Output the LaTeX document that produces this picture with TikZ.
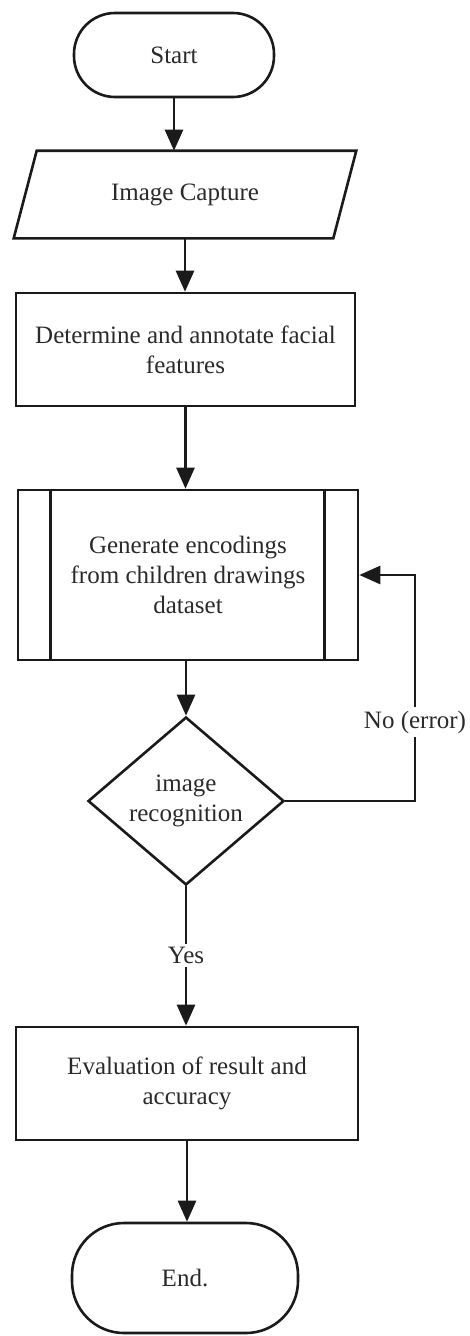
\documentclass[tikz,border=0pt]{standalone}
\usepackage{fontspec}
\setmainfont{Liberation Serif}
\usetikzlibrary{shapes.geometric,arrows.meta}
\definecolor{ink}{HTML}{1A1A1A}
\definecolor{txt}{HTML}{2A2A2A}
\tikzset{
  base/.style={draw=ink, line width=2.6pt, align=center, text=txt,
    font=\fontsize{25}{30}\selectfont, inner sep=0pt},
  terminal/.style={base, rectangle, rounded corners=#1},
  process/.style={base, rectangle},
  decision/.style={base, diamond, aspect=1.17},
  flow/.style={draw=ink, line width=2.6pt, -{Triangle[length=21pt,width=18pt]}},
  plain/.style={draw=ink, line width=2.6pt},
  lbl/.style={text=txt, font=\fontsize{25}{30}\selectfont, inner sep=3pt}
}
\begin{document}
\begin{tikzpicture}[x=1pt,y=-1pt]
\useasboundingbox (0,0) rectangle (469,1336);

% process steps
\node[terminal=41pt, minimum width=200pt, minimum height=84pt] (start) at (174,55) {Start};

% input/output step: slanted box drawn around the text node
\node[base, draw=none, minimum width=340pt, minimum height=85pt] (cap) at (185,194.5) {Image Capture};
\draw[plain, line join=miter] ([xshift=23pt]cap.north west) -- (cap.north east)
  -- ([xshift=-23pt]cap.south east) -- (cap.south west) -- cycle;

\node[process, minimum width=339pt, minimum height=113pt] (det) at (185.5,349.5)
  {Determine and annotate facial\\features};

% predefined process with its two inner bars
\node[process, minimum width=340pt, minimum height=170pt] (gen) at (188,575)
  {Generate encodings\\from children drawings\\dataset};
\draw[plain] ([xshift=34pt]gen.north west) -- ([xshift=34pt]gen.south west);
\draw[plain] ([xshift=-35pt]gen.north east) -- ([xshift=-35pt]gen.south east);

\node[decision, minimum width=196pt, minimum height=168pt] (dec) at (186,801)
  {image\\recognition};
\node[process, minimum width=342pt, minimum height=113pt] (eval) at (187,1083.5)
  {Evaluation of result and\\accuracy};
\node[terminal=52pt, minimum width=226pt, minimum height=110pt] (end) at (185,1278) {End.};

% branch labels
\node[lbl] (yes) at (186,955) {Yes};
\node[lbl] (no) at (415,722) {No (error)};

% connectors
\draw[flow] (start.south) -- (start.south |- cap.north);
\draw[flow] (cap.south) -- (cap.south |- det.north);
\draw[flow] (det.south) -- (det.south |- gen.north);
\draw[flow] (dec.north |- gen.south) -- (dec.north);
\draw[plain] (dec.south) -- (yes.north);
\draw[flow] (yes.south) -- (yes.south |- eval.north);
\draw[flow] (eval.south) -- (eval.south |- end.north);
\draw[plain] (dec.east) -| (no.south);
\draw[flow] (no.north) |- (gen.east);
\end{tikzpicture}
\end{document}
